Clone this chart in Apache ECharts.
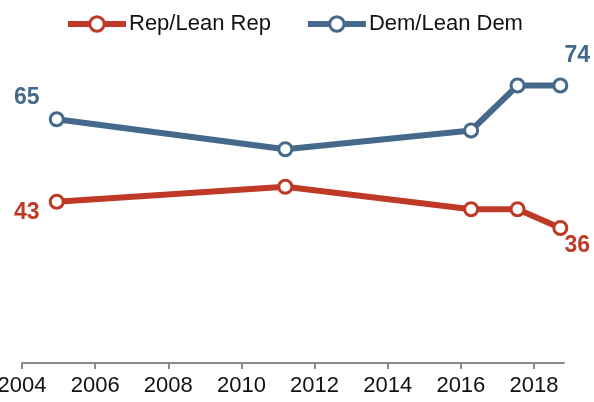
<!DOCTYPE html>
<html>
<head>
<meta charset="utf-8">
<script src="https://cdn.jsdelivr.net/npm/echarts@6/dist/echarts.min.js"></script>
<style>html,body{margin:0;padding:0;background:#fff}#c{width:594px;height:402px}</style>
</head>
<body>
<div id="c"></div>
<script>
const years = [2004.95, 2011.2, 2016.28, 2017.55, 2018.72];
const repValues = [43, 47, 41, 41, 36];
const demValues = [65, 57, 62, 74, 74];
const seriesNames = ['Rep/Lean Rep', 'Dem/Lean Dem'];
const tickYears = [2004, 2006, 2008, 2010, 2012, 2014, 2016, 2018];

const RED = '#BE3A26';
const BLUE = '#44698A';
const FONT = '"Liberation Sans", Arial, sans-serif';

function endLabel(color, offset) {
  return {
    show: true, position: 'inside', offset: offset,
    color: color, fontFamily: FONT, fontWeight: 'bold', fontSize: 23,
    formatter: p => p.value[1]
  };
}
function build(vals, color, firstOffset, lastOffset) {
  return years.map((x, i) => {
    const d = { value: [x, vals[i]] };
    if (i === 0) d.label = endLabel(color, firstOffset);
    if (i === years.length - 1) d.label = endLabel(color, lastOffset);
    return d;
  });
}

const chart = echarts.init(document.getElementById('c'), null, { renderer: 'canvas' });
chart.setOption({
  animation: false,
  legend: {
    left: 65, top: 13, padding: 0,
    itemWidth: 58, itemHeight: 18, itemGap: 34,
    lineStyle: { width: 6 },
    itemStyle: { borderWidth: 3 },
    textStyle: { fontFamily: FONT, fontSize: 22, color: '#111', padding: [0, 0, 0, -2] },
    data: seriesNames
  },
  grid: { left: 22, right: 30, top: 63, bottom: 39, containLabel: false, outerBoundsMode: 'none' },
  xAxis: {
    type: 'value', min: 2004, max: 2018.82, interval: 2,
    splitLine: { show: false },
    axisLine: { show: true, lineStyle: { color: '#8c8c8c', width: 2 } },
    axisTick: { show: true, length: 6, lineStyle: { color: '#8c8c8c', width: 2 }, customValues: tickYears },
    axisLabel: { fontFamily: FONT, fontSize: 22, color: '#111', margin: 12, customValues: tickYears, formatter: v => String(v) }
  },
  yAxis: { type: 'value', min: 0, max: 80, show: false, splitLine: { show: false } },
  series: [
    {
      name: seriesNames[0], type: 'line', data: build(repValues, RED, [-30, 11], [17, 18]),
      color: RED, symbol: 'circle', symbolSize: 13,
      lineStyle: { width: 6, color: RED },
      itemStyle: { color: '#fff', borderColor: RED, borderWidth: 3 },
      label: { show: false }
    },
    {
      name: seriesNames[1], type: 'line', data: build(demValues, BLUE, [-30, -22], [17, -30]),
      color: BLUE, symbol: 'circle', symbolSize: 13,
      lineStyle: { width: 6, color: BLUE },
      itemStyle: { color: '#fff', borderColor: BLUE, borderWidth: 3 },
      label: { show: false }
    }
  ]
});
</script>
</body>
</html>
